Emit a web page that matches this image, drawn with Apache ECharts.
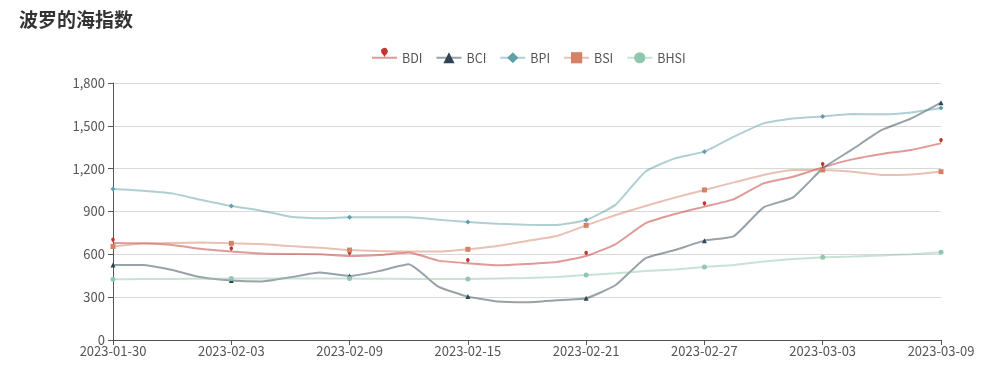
<!DOCTYPE html>
<html>
<head>
<meta charset="utf-8">
<script src="https://cdn.jsdelivr.net/npm/echarts@6/dist/echarts.min.js"></script>
<style>
  html, body { margin: 0; padding: 0; background: #fff; }
  #main { width: 1000px; height: 377px; }
</style>
</head>
<body>
<div id="main"></div>
<script>
// 日期（交易日）
var dates = [
  "2023-01-30", "2023-01-31", "2023-02-01", "2023-02-02", "2023-02-03",
  "2023-02-06", "2023-02-07", "2023-02-08", "2023-02-09", "2023-02-10",
  "2023-02-13", "2023-02-14", "2023-02-15", "2023-02-16", "2023-02-17",
  "2023-02-20", "2023-02-21", "2023-02-22", "2023-02-23", "2023-02-24",
  "2023-02-27", "2023-02-28", "2023-03-01", "2023-03-02", "2023-03-03",
  "2023-03-06", "2023-03-07", "2023-03-08", "2023-03-09"
];
var bdi = [680, 677, 665, 637, 619, 605, 602, 600, 588, 595, 612, 556, 537, 523, 532, 546, 588, 672, 817, 882, 934, 987, 1097, 1144, 1209, 1265, 1303, 1331, 1377];
var bci = [525, 525, 490, 439, 416, 409, 439, 472, 448, 483, 530, 374, 304, 269, 264, 278, 292, 385, 572, 630, 696, 728, 929, 999, 1202, 1335, 1471, 1552, 1662];
var bpi = [1057, 1046, 1027, 980, 938, 906, 864, 852, 859, 860, 859, 843, 826, 815, 808, 805, 840, 948, 1179, 1272, 1319, 1424, 1517, 1552, 1566, 1583, 1581, 1594, 1625];
var bsi = [655, 675, 680, 683, 677, 672, 658, 646, 630, 623, 619, 619, 635, 658, 693, 728, 803, 875, 938, 997, 1051, 1104, 1156, 1191, 1191, 1179, 1156, 1160, 1179];
var bhsi = [425, 427, 428, 429, 430, 430, 430, 430, 430, 429, 428, 427, 427, 430, 434, 442, 455, 467, 483, 494, 511, 525, 549, 567, 579, 585, 592, 601, 614];
var yTicks = [0, 300, 600, 900, 1200, 1500, 1800];

var names = ["BDI", "BCI", "BPI", "BSI", "BHSI"];
var symbols = ["pin", "triangle", "diamond", "rect", "circle"];
var colors = ["#c23531", "#2f4554", "#61a0a8", "#d48265", "#91c7ae"];
var values = [bdi, bci, bpi, bsi, bhsi];

var font = "'Noto Sans CJK SC', 'Noto Sans', sans-serif";
var chart = echarts.init(document.getElementById("main"));

var series = [];
names.forEach(function (name, i) {
  series.push({
    name: name,
    type: "line",
    smooth: 0.15,
    symbol: symbols[i],
    // 只在标签位置显示点
    symbolSize: function (val, params) {
      return params.dataIndex % 4 === 0 ? (symbols[i] === "pin" ? 6 : 5) : 0;
    },
    itemStyle: { color: colors[i] },
    lineStyle: { width: 2, opacity: 0.5 },
    emphasis: { disabled: true },
    data: values[i]
  });
});

var option = {
  animation: false,
  color: colors,
  title: {
    text: "波罗的海指数",
    left: 14,
    top: 5,
    textStyle: { fontFamily: font, fontSize: 19, fontWeight: "bold", color: "#333" }
  },
  legend: {
    top: 43,
    left: 366,
    itemGap: 13,
    itemWidth: 25,
    itemHeight: 14,
    textStyle: { fontFamily: font, fontSize: 12.5, color: "#555" },
    data: names
  },
  grid: { left: 113, right: 59, top: 83, bottom: 37 },
  xAxis: {
    type: "category",
    boundaryGap: false,
    data: dates,
    axisLine: { show: true, lineStyle: { color: "#555" } },
    axisTick: { show: true, interval: 3, lineStyle: { color: "#555" } },
    axisLabel: { interval: 3, color: "#555", fontFamily: font, fontSize: 13, margin: 5 }
  },
  yAxis: {
    type: "value",
    min: yTicks[0],
    max: yTicks[yTicks.length - 1],
    interval: yTicks[1] - yTicks[0],
    axisLine: { show: true, lineStyle: { color: "#555" } },
    axisTick: { show: true, lineStyle: { color: "#555" } },
    axisLabel: { color: "#555", fontFamily: font, fontSize: 13 },
    splitLine: { lineStyle: { color: "#d9d9d9" } }
  },
  series: series
};
chart.setOption(option);
</script>
</body>
</html>
